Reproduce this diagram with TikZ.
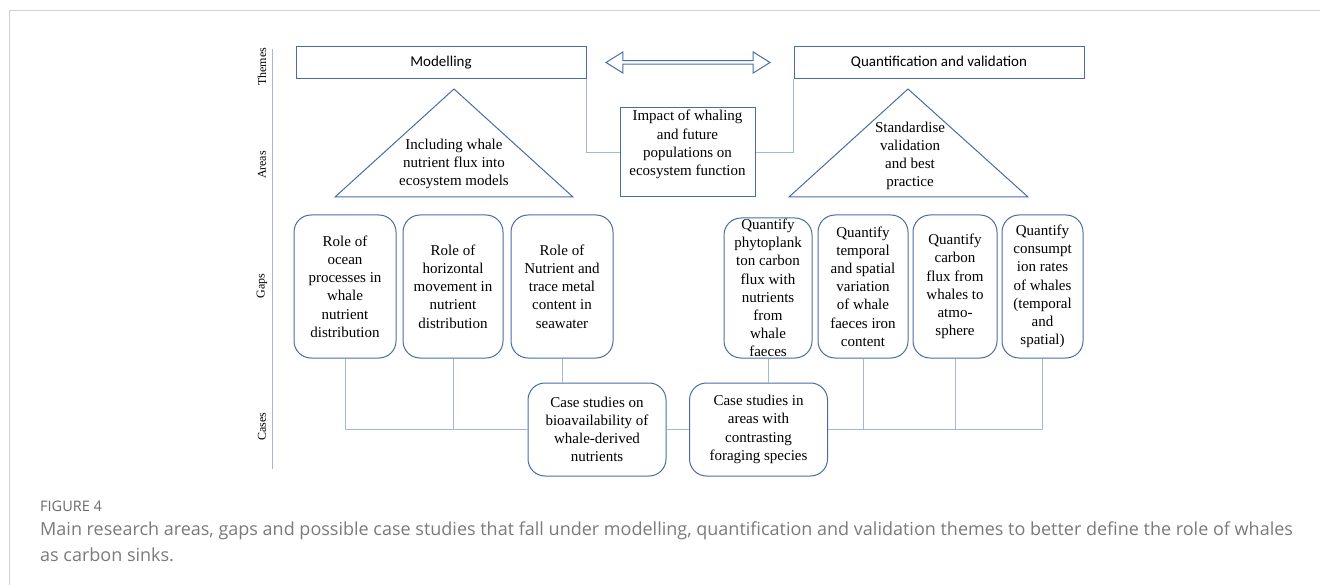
\documentclass[tikz,border=0pt]{standalone}
\usepackage{fontspec}
\usepackage{xcolor}
\usepackage{tikz}
\usetikzlibrary{shapes.arrows}
\setmainfont{Liberation Serif}
\newfontfamily\themefont{Carlito}
\newfontfamily\capfont{Open Sans}
\definecolor{boxblue}{HTML}{4A6BA6}
\definecolor{linkblue}{HTML}{A3B7DD}
\definecolor{capgray}{HTML}{7A7A7A}
\definecolor{fignumgray}{HTML}{6A6A6A}
\definecolor{framegray}{HTML}{D0D0D0}

\begin{document}
\begin{tikzpicture}[x=1pt,y=-1pt,
    theme/.style={draw=boxblue,line width=1pt,minimum width=290pt,minimum height=31.5pt,inner sep=0pt,font=\themefont\fontsize{15}{18}\selectfont},
    gapbox/.style={draw=boxblue,line width=1pt,rounded corners=17pt,inner sep=0pt,align=center,minimum height=143pt,font=\fontsize{15}{18.2}\selectfont},
    casebox/.style={gapbox,minimum width=138pt,minimum height=93pt},
    areatext/.style={align=center,inner sep=0pt,font=\fontsize{15}{18.2}\selectfont},
    tri/.style={draw=boxblue,line width=1pt,line join=miter},
    link/.style={draw=linkblue,line width=1pt},
    rowlabel/.style={rotate=90,inner sep=0pt,font=\fontsize{12}{14}\selectfont}]
    \path[use as bounding box] (0,0) rectangle (1320,585);
    \draw[framegray,line width=1pt] (9,585) -- (9,11) -- (1320,11);

    \draw[link] (272,49) -- (272,469);
    \node[rowlabel] (themes) at (262,67) {Themes};
    \node[rowlabel] (areas) at (262,165) {Areas};
    \node[rowlabel] (gaps) at (262,286) {Gaps};
    \node[rowlabel] (cases) at (262,427) {Cases};

    \node[theme] (model) at (441,62.5) {Modelling};
    \node[theme] (quant) at (939,62.5) {Quantification and validation};
    \node[double arrow,draw=boxblue,line width=1pt,inner sep=0pt,minimum height=164pt,minimum width=21pt,
          double arrow head extend=2.5pt,double arrow tip angle=64] (both) at (688,62.5) {};

    \draw[tri] (454,89) -- (573,197) -- (335,197) -- cycle;
    \node[areatext] (areaL) at (454,164) {Including whale\\nutrient flux into\\ecosystem models};
    \draw[tri] (908,89) -- (1028,197) -- (789,197) -- cycle;
    \node[areatext] (areaR) at (910,156) {Standardise\\validation\\and best\\practice};
    \node[draw=boxblue,line width=1pt,minimum width=135pt,minimum height=89pt,inner sep=0pt] (impact) at (687.5,152.5) {};
    \node[areatext] (impacttext) at (687.5,144.5) {Impact of whaling\\and future\\populations on\\ecosystem function};

    \node[gapbox,minimum width=102pt] (gap1) at (345,286.5) {Role of\\ocean\\processes in\\whale\\nutrient\\distribution};
    \node[gapbox,minimum width=100pt] (gap2) at (453,286.5) {Role of\\horizontal\\movement in\\nutrient\\distribution};
    \node[gapbox,minimum width=102pt] (gap3) at (562,286.5) {Role of\\Nutrient and\\trace metal\\content in\\seawater};
    \node[gapbox,minimum width=88pt,minimum height=140pt] (gap4) at (768,288) {Quantify\\phytoplank\\ton carbon\\flux with\\nutrients\\from\\whale\\faeces};
    \node[gapbox,minimum width=90pt] (gap5) at (863,286.5) {Quantify\\temporal\\and spatial\\variation\\of whale\\faeces iron\\content};
    \node[gapbox,minimum width=84pt] (gap6) at (955,286.5) {Quantify\\carbon\\flux from\\whales to\\atmo-\\sphere};
    \node[gapbox,minimum width=81pt] (gap7) at (1042.5,286.5) {Quantify\\consumpt\\ion rates\\of whales\\(temporal\\and\\spatial)};

    \node[casebox] (case1) at (597,429.5) {Case studies on\\bioavailability of\\whale-derived\\nutrients};
    \node[casebox] (case2) at (758.5,429.5) {Case studies in\\areas with\\contrasting\\foraging species};

    \draw[link] (model.south east) |- (impact.west);
    \draw[link] (quant.south west) |- (impact.east);
    \draw[link] (gap1.south) |- (case1.west);
    \draw[link] (gap2.south) -- (gap2.south |- case1.west);
    \draw[link] (gap3.south) -- (gap3.south |- case1.north);
    \draw[link] (case1.east) -- (case2.west);
    \draw[link] (gap4.south) -- (gap4.south |- case2.north);
    \draw[link] (case2.east) -| (gap7.south);
    \draw[link] (gap5.south) -- (gap5.south |- case2.east);
    \draw[link] (gap6.south) -- (gap6.south |- case2.east);

    \node[anchor=base west,inner sep=0pt,text=fignumgray,font=\capfont\fontsize{14.5}{17}\selectfont] (fignum) at (40,511) {FIGURE 4};
    \node[anchor=base west,inner sep=0pt,text=capgray,font=\capfont\fontsize{18}{26}\selectfont] (cap1) at (40,535)
          {Main research areas, gaps and possible case studies that fall under modelling, quantification and validation themes to better define the role of whales};
    \node[anchor=base west,inner sep=0pt,text=capgray,font=\capfont\fontsize{18}{26}\selectfont] (cap2) at (40,561) {as carbon sinks.};
\end{tikzpicture}
\end{document}
